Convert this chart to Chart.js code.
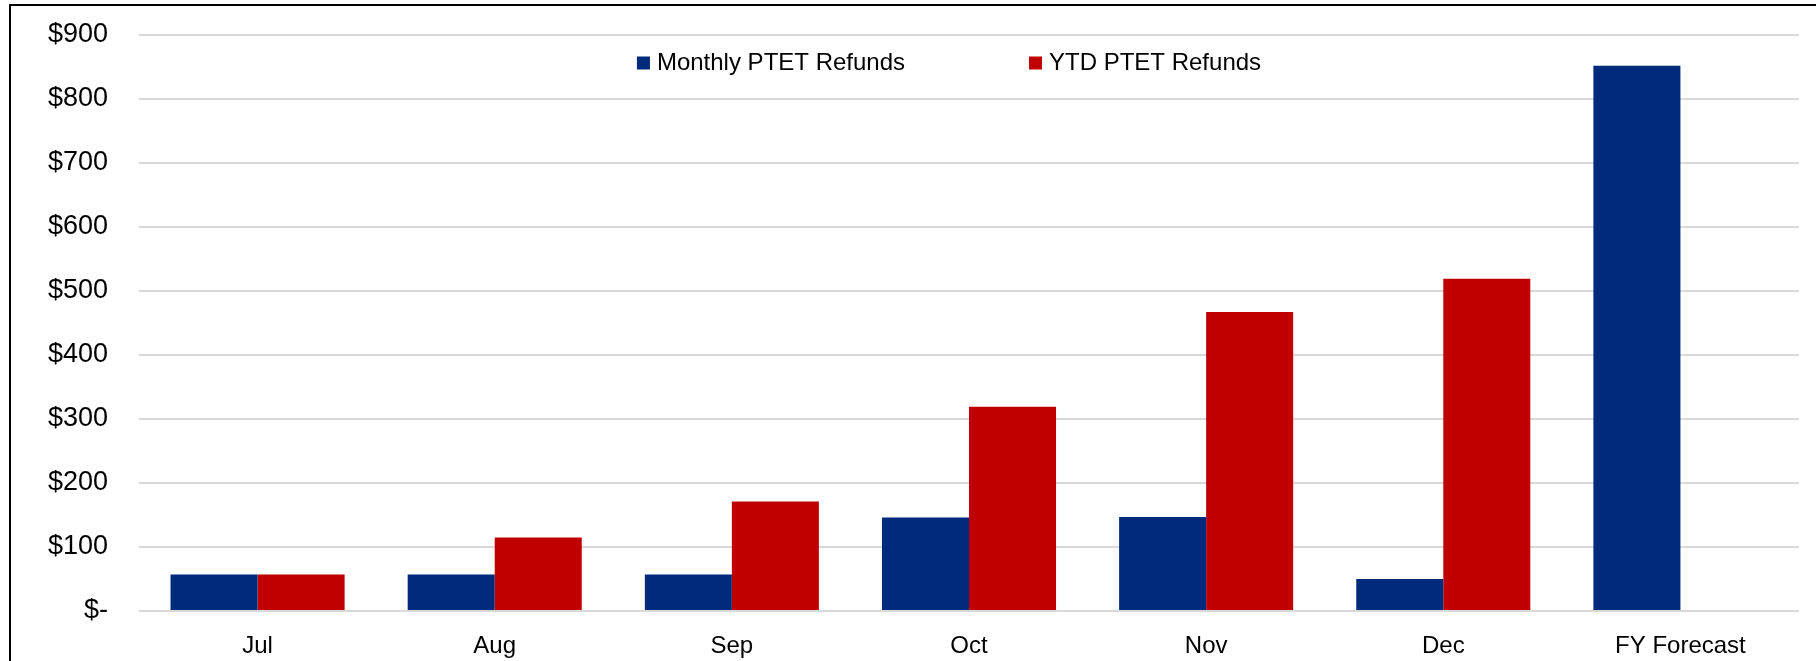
<!DOCTYPE html>
<html>
<head>
<meta charset="utf-8">
<script src="https://cdn.jsdelivr.net/npm/chart.js@4.4.1/dist/chart.umd.min.js"></script>
<style>
  html, body { margin: 0; padding: 0; background: #fff; }
  #caixa { position: relative; width: 1816px; height: 661px; overflow: hidden; }
  /* moldura preta só em cima e à esquerda, como no print */
  #moldura { position: absolute; left: 9px; top: 4px; width: 1900px; height: 800px;
             border-top: 2px solid #000; border-left: 2px solid #000; pointer-events: none; }
</style>
</head>
<body>
<div id="caixa">
  <canvas id="grafico"></canvas>
  <div id="moldura"></div>
</div>
<script>
// dados (em $)
const meses = ['Jul', 'Aug', 'Sep', 'Oct', 'Nov', 'Dec', 'FY Forecast'];
const mensal = [57, 57, 57, 146, 147, 50, 852];
const acumulado = [57, 115, 171, 319, 467, 519, null];
const ticksY = [0, 100, 200, 300, 400, 500, 600, 700, 800, 900];

const AZUL = '#002A7C', VERMELHO = '#C00000';
const FONTE = '"Liberation Sans", Arial, sans-serif';

// legenda desenhada dentro da área do gráfico
const legendaInterna = {
    id: 'legendaInterna',
    afterDraw(chart) {
        const { ctx, chartArea } = chart;
        ctx.save();
        ctx.font = '24px ' + FONTE;
        ctx.textBaseline = 'middle';
        const y = chartArea.top + 28;
        const meio = (chartArea.left + chartArea.right) / 2 - 20;
        const box = 13, gapTxt = 7, gapItem = 124;
        const itens = chart.data.datasets.map(ds => ({ txt: ds.label, cor: ds.backgroundColor, w: ctx.measureText(ds.label).width }));
        const total = itens.reduce((s, it) => s + box + gapTxt + it.w, 0) + gapItem * (itens.length - 1);
        let x = meio - total / 2;
        itens.forEach(it => {
            ctx.fillStyle = it.cor;
            ctx.fillRect(x, y - box / 2, box, box);
            x += box + gapTxt;
            ctx.fillStyle = '#000';
            ctx.fillText(it.txt, x, y);
            x += it.w + gapItem;
        });
        ctx.restore();
    }
};

new Chart(document.getElementById('grafico'), {
    type: 'bar',
    plugins: [legendaInterna],
    data: {
        labels: meses,
        datasets: [
            { label: 'Monthly PTET Refunds', data: mensal, backgroundColor: AZUL },
            { label: 'YTD PTET Refunds', data: acumulado, backgroundColor: VERMELHO }
        ]
    },
    options: {
        responsive: true, maintainAspectRatio: false, animation: false,
        layout: { padding: { top: 35, right: 17, left: 0, bottom: 0 } },
        datasets: { bar: { categoryPercentage: 0.734, barPercentage: 1 } },
        plugins: { legend: { display: false }, tooltip: { enabled: false } },
        scales: {
            x: {
                grid: { display: false },
                border: { display: false },
                ticks: { color: '#000', font: { family: FONTE, size: 24 }, padding: 13, maxRotation: 0 },
                afterFit: s => { s.height = 50; }
            },
            y: {
                min: 0, max: 900,
                afterBuildTicks: s => { s.ticks = ticksY.map(v => ({ value: v })); },
                grid: { color: '#D9D9D9', lineWidth: 2, drawTicks: false },
                border: { display: false },
                ticks: {
                    color: '#000', font: { family: FONTE, size: 27 }, padding: 31,
                    callback: v => v === 0 ? '$-' : '$' + v
                },
                // largura fixa e sem folga extra em cima/baixo (a área começa na linha do $900)
                afterFit: s => { s.width = 139; s.paddingTop = 0; s.paddingBottom = 0; }
            }
        }
    }
});
</script>
</body>
</html>
